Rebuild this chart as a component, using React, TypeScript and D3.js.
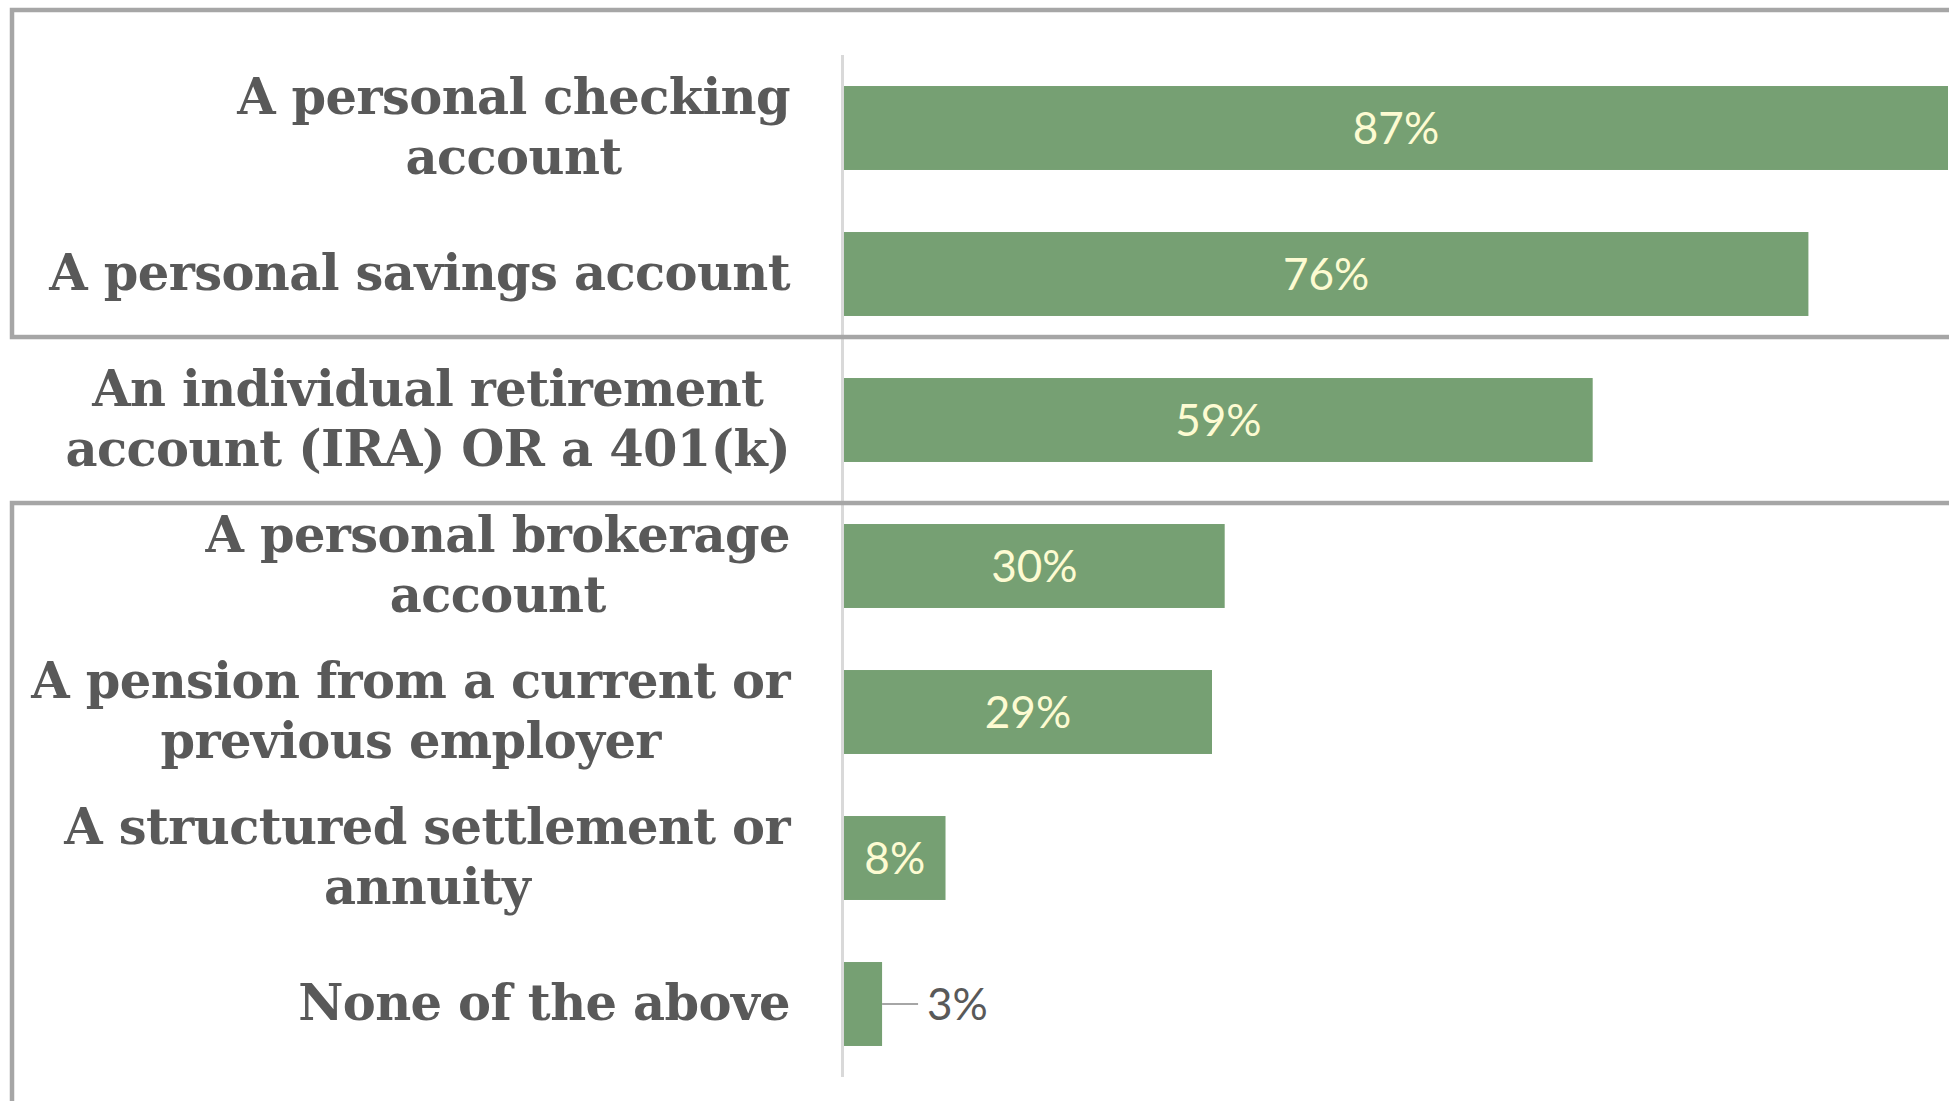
import React, { useEffect, useRef } from "react";
import * as d3 from "d3";

const categories: string[][] = [
  ["A personal checking", "account"],
  ["A personal savings account"],
  ["An individual retirement", "account (IRA) OR a 401(k)"],
  ["A personal brokerage", "account"],
  ["A pension from a current or", "previous employer"],
  ["A structured settlement or", "annuity"],
  ["None of the above"],
];
const values: number[] = [0.87, 0.76, 0.59, 0.3, 0.29, 0.08, 0.03];
const valueLabels: string[] = ["87%", "76%", "59%", "30%", "29%", "8%", "3%"];

const W = 1949;
const H = 1101;

export default function App() {
  const ref = useRef<SVGSVGElement | null>(null);

  useEffect(() => {
    const svg = d3.select(ref.current);
    svg.selectAll("*").remove();

    const ids = categories.map((_, i) => String(i));
    const y = d3
      .scaleBand<string>()
      .domain(ids)
      .range([55, 1077])
      .paddingInner(0.425)
      .paddingOuter(0.2125);
    const x = d3.scaleLinear().domain([0, 0.87]).range([844, 1948]);
    const step = y.step();

    // bars
    svg
      .append("g")
      .selectAll("rect")
      .data(values)
      .join("rect")
      .attr("x", x(0))
      .attr("y", (_, i) => y(ids[i])!)
      .attr("width", (d) => x(d) - x(0))
      .attr("height", y.bandwidth())
      .attr("fill", "#76a073");

    // axis line
    svg
      .append("line")
      .attr("x1", x(0) - 1.5)
      .attr("x2", x(0) - 1.5)
      .attr("y1", y.range()[0])
      .attr("y2", y.range()[1])
      .attr("stroke", "#d9d9d9")
      .attr("stroke-width", 3);

    // value labels
    const vg = svg.append("g");
    values.forEach((v, i) => {
      const cy = y(ids[i])! + y.bandwidth() / 2;
      const t = vg
        .append("text")
        .text(valueLabels[i])
        .attr("font-family", "Lato, 'Open Sans', sans-serif")
        .attr("font-size", 44)
        .attr("y", cy + 16);
      const tw = (t.node() as SVGTextElement).getComputedTextLength();
      const bw = x(v) - x(0);
      if (bw > tw + 8) {
        t.attr("x", x(0) + bw / 2).attr("text-anchor", "middle").attr("fill", "#fdfbd2");
      } else {
        t.attr("x", x(v) + 45).attr("text-anchor", "start").attr("fill", "#595959");
        vg.append("line")
          .attr("x1", x(v))
          .attr("x2", x(v) + 36)
          .attr("y1", cy)
          .attr("y2", cy)
          .attr("stroke", "#a6a6a6")
          .attr("stroke-width", 2);
      }
    });

    // category labels
    const rightEdge = 790;
    const lineH = 60;
    const lg = svg.append("g");
    categories.forEach((lines, i) => {
      const cy = y(ids[i])! + y.bandwidth() / 2;
      const texts = lines.map((ln) =>
        lg
          .append("text")
          .text(ln)
          .attr("font-family", "'DejaVu Serif', 'Liberation Serif', serif")
          .attr("font-weight", "bold")
          .attr("font-size", 49.5)
          .attr("letter-spacing", -0.6)
          .attr("fill", "#595959")
          .attr("text-anchor", "middle")
      );
      const maxW = d3.max(texts, (t) => (t.node() as SVGTextElement).getComputedTextLength())!;
      const cx = rightEdge - maxW / 2;
      const n = lines.length;
      texts.forEach((t, j) => {
        const lc = cy + (j - (n - 1) / 2) * lineH;
        t.attr("x", cx).attr("y", lc + 16);
      });
    });

    // group boxes
    const bg = svg.append("g").attr("fill", "none").attr("stroke", "#a6a6a6").attr("stroke-width", 4.5);
    const top1 = y.range()[0] - 45;
    const bot1 = y(ids[1])! + step - 41;
    bg.append("rect").attr("x", 12).attr("y", top1).attr("width", W + 20).attr("height", bot1 - top1);
    const top2 = y(ids[3])! - 21;
    bg.append("rect").attr("x", 12).attr("y", top2).attr("width", W + 20).attr("height", H + 40 - top2);
  }, []);

  return (
    <div style={{ position: "absolute", left: 0, top: 0, width: W, height: H, overflow: "hidden", background: "#fff" }}>
      <svg ref={ref} width={W} height={H} style={{ display: "block" }} />
    </div>
  );
}
